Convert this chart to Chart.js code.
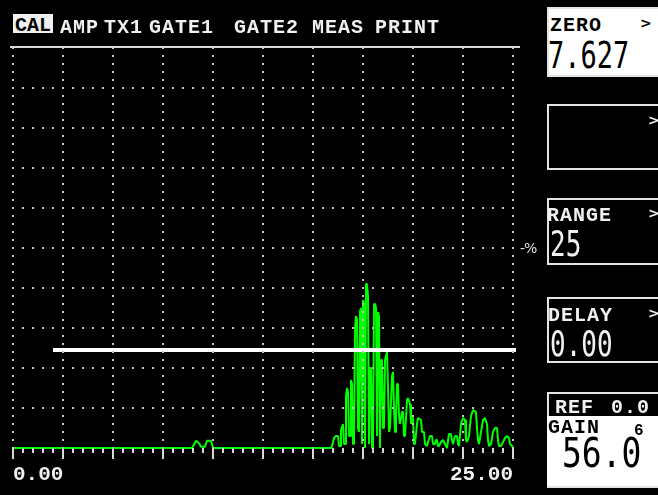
<!DOCTYPE html>
<html>
<head>
  <meta charset="utf-8">
  <title>A-scan</title>
  <style>
    body { margin: 0; background: #000; }
    #scope { position: relative; width: 658px; height: 495px; overflow: hidden; background: #000; }
    #scope canvas { position: absolute; left: 0; top: 0; }

    .menu { position: absolute; top: 18px; font: bold 20px "Liberation Mono"; line-height: 20px; letter-spacing: 1px; color: #f0f0f0; white-space: nowrap; }
    .menu.sel { top: 14px; left: 13px; width: 40px; height: 19px; box-sizing: border-box; padding-top: 2px; letter-spacing: 0;
                line-height: 20px; background: #f0f0f0; color: #000; text-align: center; overflow: hidden; }
    .rule { position: absolute; left: 10px; top: 46px; width: 510px; height: 2px; background: #d8d8d8; }

    .box { position: absolute; left: 547px; width: 120px; border: 2px solid #e4e4e4; box-sizing: border-box; }
    .lbl { position: absolute; font: bold 20px "Liberation Mono"; line-height: 20px; letter-spacing: 1px; color: #f0f0f0; white-space: nowrap; }
    .arr { position: absolute; left: 648px; font: bold 14px "DejaVu Sans"; line-height: 14px; color: #f0f0f0; }
    .big { position: absolute; font-family: "DejaVu Sans Mono"; line-height: 1; color: #f0f0f0; transform-origin: 0 0; white-space: nowrap; }
    .dark { color: #000; }
  </style>
</head>
<body>
  <div id="scope">
    <canvas id="ascan" width="658" height="495"></canvas>

    <!-- menu -->
    <div class="menu sel">CAL</div>
    <div class="menu" style="left:60px">AMP</div>
    <div class="menu" style="left:104px">TX1</div>
    <div class="menu" style="left:149px">GATE1</div>
    <div class="menu" style="left:234px">GATE2</div>
    <div class="menu" style="left:312px">MEAS</div>
    <div class="menu" style="left:375px">PRINT</div>
    <div class="rule"></div>

    <!-- right panels -->
    <div class="box" style="top:7px;height:70px;background:#fff"></div>
    <div class="lbl dark" style="left:550px;top:16px">ZERO</div>
    <div class="arr dark" style="left:640px;top:16px">&gt;</div>
    <div class="big dark" style="left:548px;top:36px;font-size:27px;transform:scaleY(1.4)">7.627</div>

    <div class="box" style="top:104px;height:66px"></div>
    <div class="arr" style="top:113px">&gt;</div>

    <div class="box" style="top:198px;height:67px"></div>
    <div class="lbl" style="left:547px;top:206px">RANGE</div>
    <div class="arr" style="top:206px">&gt;</div>
    <div class="big" style="left:550px;top:226px;font-size:26px;transform:scaleY(1.35)">25</div>

    <div class="box" style="top:297px;height:66px"></div>
    <div class="lbl" style="left:548px;top:306px">DELAY</div>
    <div class="arr" style="top:306px">&gt;</div>
    <div class="big" style="left:550px;top:326px;font-size:26px;transform:scaleY(1.35)">0.00</div>

    <div class="box" style="top:392px;height:96px"></div>
    <div style="position:absolute;left:547px;top:416px;width:120px;height:70px;background:#fff"></div>
    <div class="lbl" style="left:555px;top:398px">REF</div>
    <div class="lbl" style="left:611px;top:398px">0.0</div>
    <div class="lbl dark" style="left:548px;top:418px">GAIN</div>
    <div class="lbl dark" style="left:634px;top:421px;font-size:16px">6</div>
    <div class="big dark" style="left:562px;top:432px;font-size:33px;transform:scaleY(1.25)">56.0</div>

    <div style="position:absolute;left:520px;top:240px;font:14px 'DejaVu Sans';color:#e0e0e0;letter-spacing:-1px">-%</div>
  </div>

  <script src="https://cdn.jsdelivr.net/npm/chart.js"></script>
  <script>
    // sound path (range units) and echo amplitude (% screen height)
    const depth = [
      0, 8.95, 9.15, 9.30, 9.40, 9.60, 9.70, 9.90, 10.00,
      15.90, 15.95, 16.05, 16.15, 16.25, 16.30, 16.35, 16.40, 16.50, 16.55, 16.60,
      16.65, 16.70, 16.75, 16.80, 16.85, 16.90, 16.95, 17.00, 17.05,
      17.10, 17.15, 17.20, 17.25, 17.30, 17.35, 17.40, 17.45, 17.50, 17.55,
      17.60, 17.65, 17.70, 17.75, 17.80, 17.85, 17.90, 17.95, 18.00,
      18.05, 18.10, 18.15, 18.20, 18.25, 18.30, 18.35, 18.40, 18.45, 18.50, 18.55,
      18.60, 18.70, 18.75, 18.80, 18.85, 18.95, 19.00, 19.05, 19.10, 19.15,
      19.20, 19.25, 19.30, 19.35, 19.45, 19.50, 19.55, 19.60, 19.70, 19.75,
      19.85, 19.90, 19.95, 20.00, 20.05, 20.10, 20.20, 20.25, 20.40, 20.45,
      20.55, 20.60, 20.70, 20.75, 20.85, 20.95, 21.00, 21.10, 21.15, 21.20,
      21.25, 21.30, 21.40, 21.50, 21.60, 21.70, 21.80, 21.90, 21.95, 22.00,
      22.10, 22.20, 22.25, 22.30, 22.40, 22.50, 22.60, 22.65, 22.70, 22.80,
      22.90, 23.00, 23.15, 23.20, 23.25, 23.30, 23.40, 23.50, 23.60, 23.70,
      23.75, 23.80, 23.90, 24.00, 24.10, 24.20, 24.25, 24.30, 24.40, 24.50,
      24.60, 24.70, 24.80, 24.85, 24.95, 25.00, 25.40
    ];
    const amplitude = [
      0, 0, 1.8, 1.2, 0.3, 0.3, 1.8, 1.8, 0,
      0, 0.5, 2.5, 3, 3, 0.5, 0.5, 4.5, 6, 1, 1,
      13, 15, 14, 3, 3, 17, 16, 1, 1,
      30, 33, 32, 5, 4, 34, 35, 1, 37, 36,
      0, 41, 41, 38, 1, 20, 20, 0, 0,
      36, 36, 35, 3, 34, 33, 0, 22, 22, 5, 5,
      22, 24, 15, 4, 5, 18, 19, 10, 4, 8,
      16, 16, 8, 6, 9, 9, 3, 3, 12, 12.5,
      11, 6, 7.5, 7.5, 1, 1, 6, 7.5, 7, 4,
      4, 1, 0.5, 1.5, 3, 3, 1, 1, 2, 2,
      0.5, 0.5, 1.5, 2, 1, 0, 3.5, 3.5, 2, 1,
      3, 3, 1, 0.5, 6, 7.5, 7, 2, 1.5, 3,
      8, 9.5, 9, 5, 2, 1, 4, 7, 7.5, 6,
      2, 0.5, 1, 4, 5, 5, 2, 0.5, 0.5, 1.5,
      2.5, 3, 2.5, 1, 0.5, 0, 0
    ];

    // gate A
    const gateStart = 2.0;
    const gateEnd = 25.15;
    const gateLevel = 24.5;

    // screen range and labels
    const rangeStart = 0;
    const rangeEnd = 25;
    const rangeLabels = { 0: '0.00', 25: '25.00' };

    const isMajor = v => Math.abs(v / 2.5 - Math.round(v / 2.5)) < 1e-6;

    new Chart(document.getElementById('ascan'), {
      type: 'line',
      data: {
        datasets: [{
          label: 'gate',
          data: [{ x: gateStart, y: gateLevel }, { x: gateEnd, y: gateLevel }],
          borderColor: '#ffffff',
          borderWidth: 4,
          pointRadius: 0,
          clip: { left: 2, top: 2, right: 10, bottom: 3 }
        }, {
          label: 'echo',
          data: depth.map((d, i) => ({ x: d, y: amplitude[i] })),
          borderColor: '#00ff00',
          borderWidth: 2,
          borderJoinStyle: 'bevel',
          pointRadius: 0,
          tension: 0,
          clip: { left: 2, top: 2, right: 10, bottom: 3 }
        }]
      },
      options: {
        responsive: false,
        animation: false,
        events: [],
        layout: { padding: { left: 13, top: 48, right: 145, bottom: 0 } },
        plugins: { legend: { display: false }, tooltip: { enabled: false } },
        scales: {
          x: {
            type: 'linear',
            min: rangeStart,
            max: rangeEnd,
            afterFit: s => { s.height = 47; },
            border: { display: false, dash: [2, 6], dashOffset: 1 },
            grid: {
              z: 1,
              lineWidth: 2,
              color: c => isMajor(c.tick.value) ? '#c4c4c4' : 'rgba(0,0,0,0)',
              tickColor: '#d8d8d8',
              tickWidth: 2,
              tickLength: 11,
              tickBorderDash: c => isMajor(c.tick.value) ? [] : [5, 40]
            },
            ticks: {
              stepSize: 0.5,
              autoSkip: false,
              maxRotation: 0,
              align: 'inner',
              padding: 3,
              color: '#f0f0f0',
              font: { family: 'Liberation Mono', size: 21, weight: 'bold' },
              callback: v => rangeLabels[v] || ''
            }
          },
          y: {
            type: 'linear',
            min: 0,
            max: 100,
            afterFit: s => { s.width = 0; },
            border: { display: false, dash: [2, 8], dashOffset: 1 },
            grid: {
              z: 1,
              lineWidth: 2,
              drawTicks: false,
              color: c => (c.tick.value > 0 && c.tick.value < 100) ? '#c4c4c4' : 'rgba(0,0,0,0)'
            },
            ticks: { display: false, stepSize: 10 }
          }
        }
      }
    });
  </script>
</body>
</html>
